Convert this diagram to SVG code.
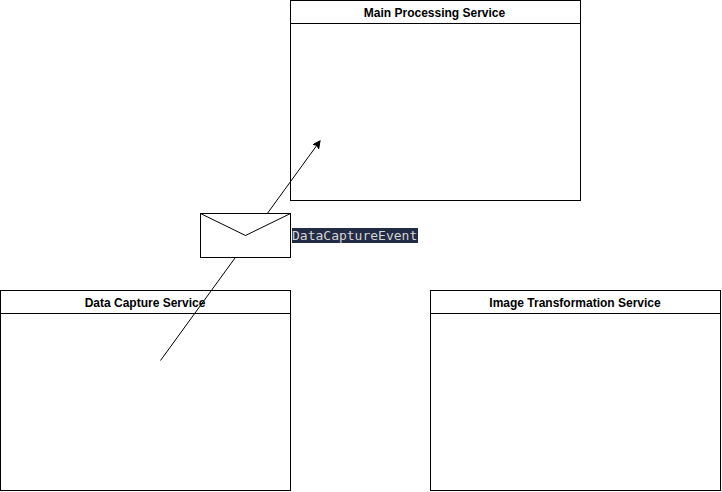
<svg xmlns="http://www.w3.org/2000/svg" width="722" height="492" viewBox="0 0 722 492">
<style>
.box{fill:#fff;stroke:#000;stroke-width:1}
.line{fill:none;stroke:#000;stroke-width:1}
.title{font-family:"Liberation Sans",Arial,sans-serif;font-size:12px;font-weight:bold;text-anchor:middle;fill:#000}
</style>
<defs><marker id="arrow" markerUnits="userSpaceOnUse" markerWidth="10" markerHeight="10" refX="7" refY="3.500" orient="auto"><path d="M0 0L7 3.500L0 7L1.750 3.500Z" fill="#000" stroke="#000"/></marker></defs>
<rect width="722" height="492" fill="#fff"/>
<g id="main-processing-service"><rect class="box" x="290.500" y="0.500" width="290" height="200"/><path class="line" d="M290.500 23.500H580.500"/><text class="title" x="434.500" y="17">Main Processing Service</text></g>
<g id="data-capture-service"><rect class="box" x="0.500" y="290.500" width="290" height="200"/><path class="line" d="M0.500 313.500H290.500"/><text class="title" x="145" y="307">Data Capture Service</text></g>
<g id="image-transformation-service"><rect class="box" x="430.500" y="290.500" width="290" height="200"/><path class="line" d="M430.500 313.500H720.500"/><text class="title" x="575" y="307">Image Transformation Service</text></g>
<g id="connectors"><path class="line" d="M160.500 360.500L320 141" marker-end="url(#arrow)"/></g>
<g id="data-capture-event"><rect class="box" x="200.500" y="213.500" width="90" height="44"/><path class="line" d="M200.500 213.500L245.500 235.500L290.500 213.500"/><rect x="292" y="228" width="126" height="15" fill="#232c46"/><text x="292" y="240" font-family="'DejaVu Sans Mono',monospace" font-size="13" fill="#d4d4d4">DataCaptureEvent</text></g>
</svg>
